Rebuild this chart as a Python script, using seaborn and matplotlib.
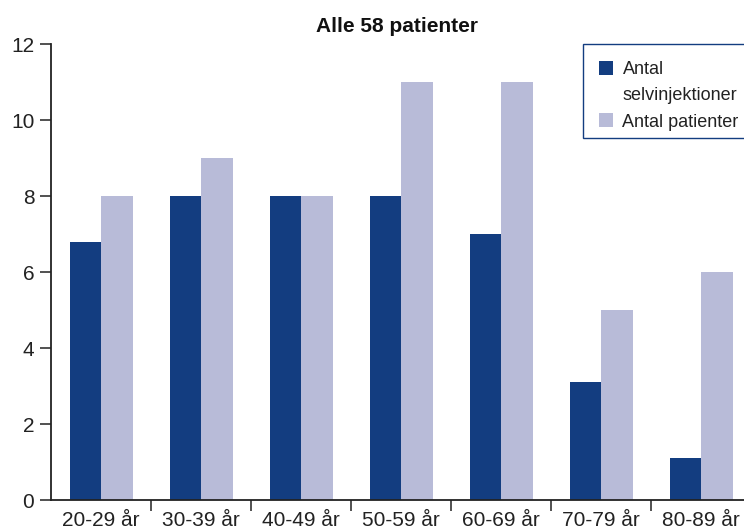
import matplotlib
matplotlib.use("Agg")
import matplotlib.pyplot as plt
import seaborn as sns
import pandas as pd
from matplotlib.patches import Patch, Rectangle
from matplotlib.ticker import FixedLocator

categories = ["20-29 år", "30-39 år", "40-49 år", "50-59 år", "60-69 år", "70-79 år", "80-89 år"]
selvinjektioner = [6.8, 8, 8, 8, 7, 3.1, 1.1]
patienter = [8, 9, 8, 11, 11, 5, 6]
series_names = ["Antal selvinjektioner", "Antal patienter"]
legend_lines = ["Antal", "selvinjektioner", "Antal patienter"]
title = "Alle 58 patienter"
yticks = [0, 2, 4, 6, 8, 10, 12]

dark = "#133d80"
light = "#b8bbd8"

df = pd.DataFrame({
    "cat": categories * 2,
    "value": selvinjektioner + patienter,
    "series": [series_names[0]] * len(categories) + [series_names[1]] * len(categories),
})

sns.set_theme(style="white")
plt.rcParams["font.family"] = ["Liberation Sans", "DejaVu Sans"]

W, H = 744, 529
fig = plt.figure(figsize=(W / 100, H / 100), dpi=100)
ax = fig.add_axes([51 / W, 1 - 500 / H, (W - 51) / W, (500 - 44) / H])

sns.barplot(data=df, x="cat", y="value", hue="series", order=categories,
            hue_order=series_names, palette=[dark, light], width=0.63,
            saturation=1, ax=ax, legend=False, errorbar=None)
for p in ax.patches:
    p.set_edgecolor("none")
    p.set_linewidth(0)

ax.set_xlim(-0.5, -0.5 + (W - 51) / 100)
ax.set_ylim(0, 12)
ax.set_yticks(yticks)
ax.set_yticklabels([str(t) for t in yticks])
ax.set_xlabel("")
ax.set_ylabel("")

for s in ["top", "right"]:
    ax.spines[s].set_visible(False)
for s in ["left", "bottom"]:
    ax.spines[s].set_color("#222222")
    ax.spines[s].set_linewidth(1.3)

ax.tick_params(axis="y", which="major", direction="out", length=8, width=1.1,
               color="#222222", pad=4, labelsize=15, labelcolor="#222222", left=True)
ax.tick_params(axis="x", which="major", length=0, pad=8, labelsize=15, labelcolor="#222222", bottom=True)
ax.xaxis.set_minor_locator(FixedLocator([i + 0.5 for i in range(len(categories))]))
ax.tick_params(axis="x", which="minor", direction="out", length=8, width=1.1,
               color="#222222", bottom=True)

ax.set_title(title, fontsize=15, fontweight="bold", pad=9, color="#111111")

# legend frame
frame = Rectangle((583 / W, 1 - 138 / H), (W + 20 - 583) / W, (138 - 44) / H,
                  transform=fig.transFigure, facecolor="white", edgecolor=dark,
                  linewidth=1.0, zorder=5, clip_on=False)
fig.add_artist(frame)

handles = [Patch(facecolor=dark, edgecolor="none"),
           Patch(facecolor="none", edgecolor="none"),
           Patch(facecolor=light, edgecolor="none")]
leg = fig.legend(handles, legend_lines, loc="upper left",
                 bbox_to_anchor=(599 / W, 1 - 61 / H), frameon=False,
                 fontsize=13, handlelength=0.8, handleheight=0.8, handletextpad=0.5,
                 borderpad=0, labelspacing=0.5, borderaxespad=0)
leg.set_zorder(6)
for t in leg.get_texts():
    t.set_color("#222222")

fig.savefig("out.png", dpi=100)
